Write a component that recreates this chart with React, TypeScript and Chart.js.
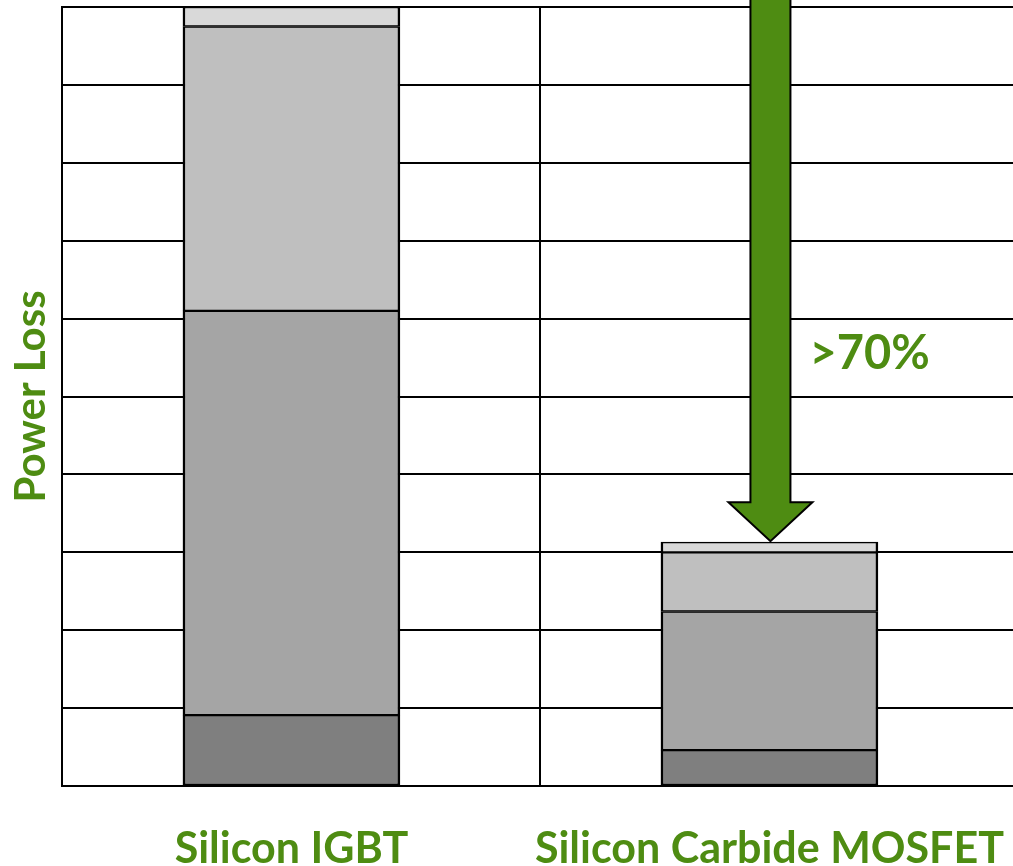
import React, { useEffect, useRef } from "react";
import { Chart, registerables } from "chart.js";

Chart.register(...registerables);

// ---- data ----
const categories = ["Silicon IGBT", "Silicon Carbide MOSFET"];
const categoryPositions = [0, 1];
const lossSegment1 = [9.1, 4.6]; // bottom segment
const lossSegment2 = [51.9, 17.8];
const lossSegment3 = [36.5, 7.6];
const lossSegment4 = [2.5, 1.3]; // top segment
const segmentColors = ["#7f7f7f", "#a5a5a5", "#bfbfbf", "#d9d9d9"];
const yMin = 0;
const yMax = 100;
const yStep = 10;
const xRange = [-0.48, 1.52];
const xGridValues = [-0.48, 0.52, 1.52];
const reductionLabel = ">70%";
const reductionLabelValue = 55.5;
const axisTitle = "Power Loss";

const GREEN = "#4e8c12";
const FONT = "Lato, 'Open Sans', sans-serif";

const allSegments = [lossSegment1, lossSegment2, lossSegment3, lossSegment4];

const arrowPlugin = {
  id: "reductionArrow",
  afterDatasetsDraw(chart: any) {
    const { ctx, scales } = chart;
    const x = scales.x;
    const y = scales.y;
    const i = 1;
    const total = allSegments.reduce((s, arr) => s + arr[i], 0);
    const cx = x.getPixelForValue(categoryPositions[i]) + 1;
    const tipY = y.getPixelForValue(total) - 1;
    const shaftHalf = 20;
    const headHalf = 42;
    const headLen = 39;
    ctx.save();
    ctx.beginPath();
    ctx.moveTo(cx - shaftHalf, -3);
    ctx.lineTo(cx - shaftHalf, tipY - headLen);
    ctx.lineTo(cx - headHalf, tipY - headLen);
    ctx.lineTo(cx, tipY);
    ctx.lineTo(cx + headHalf, tipY - headLen);
    ctx.lineTo(cx + shaftHalf, tipY - headLen);
    ctx.lineTo(cx + shaftHalf, -3);
    ctx.closePath();
    ctx.fillStyle = GREEN;
    ctx.fill();
    ctx.lineWidth = 2;
    ctx.strokeStyle = "#000";
    ctx.lineJoin = "miter";
    ctx.stroke();

    ctx.font = `bold 47px ${FONT}`;
    ctx.fillStyle = GREEN;
    ctx.textAlign = "left";
    ctx.textBaseline = "middle";
    ctx.fillText(reductionLabel, cx + shaftHalf + 19, y.getPixelForValue(reductionLabelValue));
    ctx.restore();
  },
};

export default function App() {
  const ref = useRef<HTMLCanvasElement | null>(null);

  useEffect(() => {
    if (!ref.current) return;
    const datasets = allSegments.map((arr, k) => ({
      label: `Segment ${k + 1}`,
      data: arr.map((v, i) => ({ x: categoryPositions[i], y: v })),
      backgroundColor: segmentColors[k],
      borderColor: "#000",
      borderWidth: { top: 1.5, bottom: 1.5, left: 2.5, right: 2.5 },
      borderSkipped: false,
      barThickness: 217,
    }));

    const chart = new Chart(ref.current, {
      type: "bar",
      data: { datasets } as any,
      plugins: [arrowPlugin],
      options: {
        animation: false,
        responsive: false,
        devicePixelRatio: 1,
        layout: { padding: { top: 7, right: 12, left: 0, bottom: 0 } },
        plugins: { legend: { display: false }, tooltip: { enabled: false } },
        scales: {
          x: {
            type: "linear",
            stacked: true,
            offset: false,
            min: xRange[0],
            max: xRange[1],
            afterBuildTicks: (s: any) => {
              const vals = [...xGridValues, ...categoryPositions].sort((a, b) => a - b);
              s.ticks = vals.map((v) => ({ value: v }));
            },
            afterFit: (s: any) => {
              s.height = 80;
              s.paddingLeft = 0;
              s.paddingRight = 0;
            },
            grid: {
              offset: false,
              color: (c: any) =>
                categoryPositions.includes(c.tick?.value) ? "rgba(0,0,0,0)" : "#000",
              lineWidth: 2,
              drawTicks: false,
            },
            border: { display: true, color: "#000", width: 2 },
            ticks: {
              autoSkip: false,
              maxRotation: 0,
              padding: 37,
              color: GREEN,
              font: { family: FONT, size: 43, weight: "bold" },
              callback: (v: any) => {
                const idx = categoryPositions.indexOf(Number(v));
                return idx >= 0 ? categories[idx] : "";
              },
            },
          },
          y: {
            stacked: true,
            min: yMin,
            max: yMax,
            afterFit: (s: any) => {
              s.width = 62;
            },
            ticks: { display: false, stepSize: yStep },
            grid: { color: "#000", lineWidth: 2, drawTicks: false },
            border: { display: true, color: "#000", width: 2 },
            title: {
              display: true,
              text: axisTitle,
              color: GREEN,
              font: { family: FONT, size: 42, weight: "bold" },
              padding: { top: 6, bottom: 0 },
            },
          },
        },
      } as any,
    });
    return () => chart.destroy();
  }, []);

  return (
    <div
      style={{
        position: "fixed",
        left: 0,
        top: 0,
        width: 1013,
        height: 866,
        overflow: "hidden",
        background: "#fff",
      }}
    >
      <canvas ref={ref} width={1030} height={866} style={{ display: "block", width: 1030, height: 866 }} />
    </div>
  );
}
